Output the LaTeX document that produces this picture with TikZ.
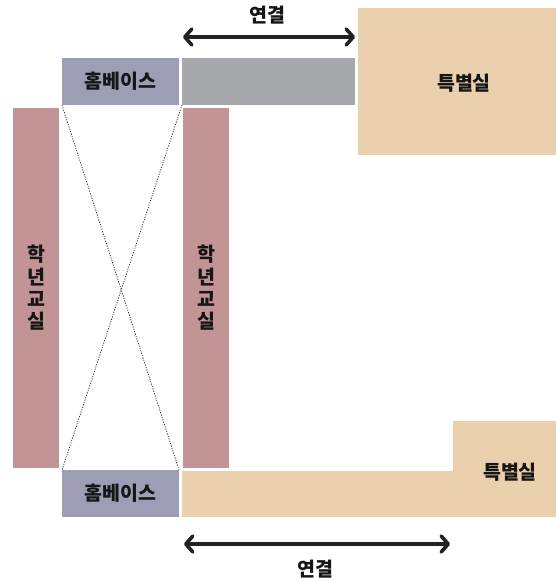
\documentclass[tikz,border=0pt]{standalone}
\usepackage{fontspec}
\newfontfamily\kr{Noto Sans CJK KR}
\usetikzlibrary{arrows.meta}
\definecolor{hbc}{RGB}{158,157,182}
\definecolor{grc}{RGB}{166,168,171}
\definecolor{clc}{RGB}{195,148,149}
\definecolor{bgc}{RGB}{234,208,172}
\definecolor{txc}{RGB}{22,22,22}
\definecolor{arc}{RGB}{34,34,34}
\begin{document}
\begin{tikzpicture}[x=1pt,y=-1pt,
  box/.style={draw=none, inner sep=0pt, outer sep=0pt, anchor=north west},
  lbl/.style={font=\kr\bfseries\fontsize{19.5pt}{22.3pt}\selectfont, text=txc, inner sep=0pt, align=center},
  link/.style={draw=arc, line width=3.6pt, {Straight Barb[length=7pt,width=16pt,round]}-{Straight Barb[length=7pt,width=16pt,round]}},
  cross/.style={draw=black!85, line width=0.7pt, dash pattern=on 1.2pt off 1.3pt}]
\useasboundingbox (0,0) rectangle (556,581);
% top row
\node[box, fill=hbc, minimum width=117pt, minimum height=47pt] (hbtop) at (62,58) {};
\node[lbl] at (hbtop.center) {홈베이스};
\node[box, fill=grc, minimum width=173pt, minimum height=47pt] (gray) at (182,58) {};
\node[box, fill=bgc, minimum width=198pt, minimum height=147pt] (sptop) at (358,8) {};
\node[lbl] (sptoptxt) at (464,83) {특별실};
% classrooms
\node[box, fill=clc, minimum width=46pt, minimum height=360pt] (clL) at (13,108) {};
\node[lbl] at (clL.center) {학\\년\\교\\실};
\node[box, fill=clc, minimum width=46pt, minimum height=360pt] (clR) at (183,108) {};
\node[lbl] at (clR.center) {학\\년\\교\\실};
% bottom row
\node[box, fill=hbc, minimum width=117pt, minimum height=47pt] (hbbot) at (62,470) {};
\node[lbl] at (hbbot.center) {홈베이스};
\node[box, fill=bgc, minimum width=374pt, minimum height=46pt] (bar) at (182,471) {};
\node[box, fill=bgc, minimum width=103pt, minimum height=51pt] (spbot) at (453,421) {};
\node[lbl] (spbottxt) at (510,472) {특별실};
% cross lines
\draw[cross] (hbtop.south west) -- (hbbot.north east);
\draw[cross] ([xshift=3pt]hbtop.south east) -- (hbbot.north west);
% links
\coordinate (t1) at (183,37);
\coordinate (t2) at (355,37);
\draw[link] (t1) -- (t2);
\node[lbl] (ttop) at (267,15) {연결};
\coordinate (b1) at (184,544);
\coordinate (b2) at (450,544);
\draw[link] (b1) -- (b2);
\node[lbl] (tbot) at (315,569) {연결};
\end{tikzpicture}
\end{document}
